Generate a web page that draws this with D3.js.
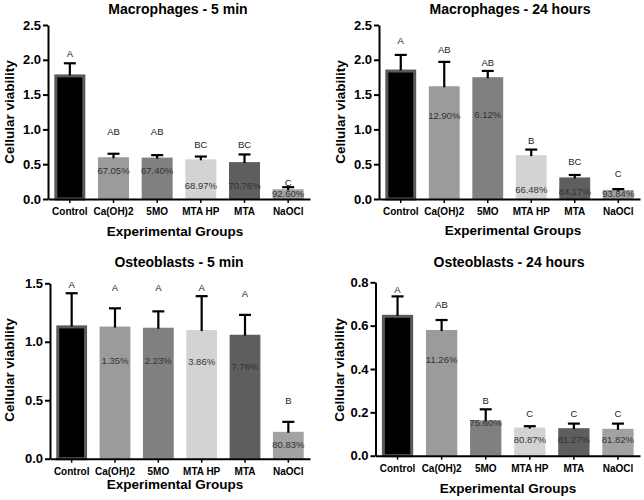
<!DOCTYPE html>
<html><head><meta charset="utf-8">
<script src="https://cdn.jsdelivr.net/npm/d3@7"></script>
<style>
body{margin:0;background:#fff}
svg{display:block}
text{font-family:"Liberation Sans",Arial,Helvetica,sans-serif}
</style></head>
<body><svg id="chart" width="644" height="500"></svg>
<script>
// ---------- data ----------
const categories = ["Control", "Ca(OH)2", "5MO", "MTA HP", "MTA", "NaOCl"];
const barColors = ["#000000", "#9b9b9b", "#808080", "#d3d3d3", "#5e5e5e", "#a2a2a2"];

const titles = ["Macrophages - 5 min", "Macrophages - 24 hours", "Osteoblasts - 5 min", "Osteoblasts - 24 hours"];

// Macrophages - 5 min
const macro5Values = [1.79, 0.60, 0.595, 0.57, 0.53, 0.14];
const macro5SD = [0.16, 0.05, 0.035, 0.04, 0.11, 0.03];
const macro5Letters = ["A", "AB", "AB", "BC", "BC", "C"];
const macro5LetterAt = [2.04, 0.92, 0.92, 0.73, 0.73, 0.18];
const macro5Pct = ["", "67.05%", "67.40%", "68.97%", "70.76%", "92.60%"];
const macro5PctAt = [0, 0.355, 0.355, 0.15, 0.15, 0.025];
const macro5Ticks = [0, 0.5, 1.0, 1.5, 2.0, 2.5];

// Macrophages - 24 hours
const macro24Values = [1.86, 1.62, 1.75, 0.63, 0.31, 0.13];
const macro24SD = [0.21, 0.35, 0.09, 0.08, 0.035, 0.012];
const macro24Letters = ["A", "AB", "AB", "B", "BC", "C"];
const macro24LetterAt = [2.23, 2.10, 1.91, 0.79, 0.49, 0.32];
const macro24Pct = ["", "12.90%", "6.12%", "66.48%", "84.17%", "93.84%"];
const macro24PctAt = [0, 1.145, 1.17, 0.08, 0.06, 0.03];
const macro24Ticks = [0, 0.5, 1.0, 1.5, 2.0, 2.5];

// Osteoblasts - 5 min
const osteo5Values = [1.14, 1.13, 1.12, 1.10, 1.06, 0.23];
const osteo5SD = [0.275, 0.156, 0.14, 0.29, 0.17, 0.085];
const osteo5Letters = ["A", "A", "A", "A", "A", "B"];
const osteo5LetterAt = [1.46, 1.43, 1.43, 1.43, 1.38, 0.465];
const osteo5Pct = ["", "1.35%", "2.23%", "3.86%", "7.76%", "80.83%"];
const osteo5PctAt = [0, 0.81, 0.81, 0.80, 0.76, 0.094];
const osteo5Ticks = [0, 0.5, 1.0, 1.5];

// Osteoblasts - 24 hours
const osteo24Values = [0.65, 0.58, 0.163, 0.13, 0.127, 0.124];
const osteo24SD = [0.085, 0.046, 0.051, 0.006, 0.021, 0.024];
const osteo24Letters = ["A", "AB", "B", "C", "C", "C"];
const osteo24LetterAt = [0.749, 0.68, 0.237, 0.178, 0.178, 0.178];
const osteo24Pct = ["", "11.26%", "75.60%", "80.87%", "81.27%", "81.82%"];
const osteo24PctAt = [0, 0.428, 0.137, 0.057, 0.057, 0.057];
const osteo24Ticks = [0, 0.2, 0.4, 0.6, 0.8];

// ---------- layout ----------
const panels = [
  {title: titles[0], values: macro5Values, sd: macro5SD, letters: macro5Letters, letterAt: macro5LetterAt, pct: macro5Pct, pctAt: macro5PctAt, ticks: macro5Ticks,
   left: 48, right: 310, top: 25, bottom: 199, titleX: 178, titleY: 13.5, xtX: 175, xtY: 235.5, ytX: 14, ytY: 112},
  {title: titles[1], values: macro24Values, sd: macro24SD, letters: macro24Letters, letterAt: macro24LetterAt, pct: macro24Pct, pctAt: macro24PctAt, ticks: macro24Ticks,
   left: 379, right: 640, top: 25, bottom: 199, titleX: 510, titleY: 13.5, xtX: 513, xtY: 235, ytX: 345, ytY: 112},
  {title: titles[2], values: osteo5Values, sd: osteo5SD, letters: osteo5Letters, letterAt: osteo5LetterAt, pct: osteo5Pct, pctAt: osteo5PctAt, ticks: osteo5Ticks,
   left: 50, right: 310, top: 283.3, bottom: 458.7, titleX: 179, titleY: 266.7, xtX: 175, xtY: 489, ytX: 14, ytY: 370},
  {title: titles[3], values: osteo24Values, sd: osteo24SD, letters: osteo24Letters, letterAt: osteo24LetterAt, pct: osteo24Pct, pctAt: osteo24PctAt, ticks: osteo24Ticks,
   left: 375.5, right: 640, top: 282.3, bottom: 455.7, titleX: 509, titleY: 267.3, xtX: 508, xtY: 493, ytX: 344, ytY: 370}
];

const svg = d3.select("#chart");

panels.forEach(p => {
  const g = svg.append("g");
  const x = d3.scaleBand().domain(categories).range([p.left, p.right]).paddingInner(0.29).paddingOuter(0.145);
  const y = d3.scaleLinear().domain([0, d3.max(p.ticks)]).range([p.bottom, p.top]);
  const bw = x.bandwidth();

  // bars
  g.selectAll("rect.bar").data(p.values).join("rect")
    .attr("class", "bar")
    .attr("x", (d, i) => x(categories[i]) + (i === 0 ? 1.5 : 0))
    .attr("width", (d, i) => bw - (i === 0 ? 3 : 0))
    .attr("y", (d, i) => y(d) + (i === 0 ? 1.5 : 0))
    .attr("height", (d, i) => y(0) - y(d) - (i === 0 ? 1.5 : 0))
    .attr("fill", (d, i) => barColors[i])
    .attr("stroke", (d, i) => i === 0 ? "#5a5a5a" : "none")
    .attr("stroke-width", 3);

  // error bars
  const eb = g.selectAll("g.err").data(p.values).join("g").attr("class", "err");
  eb.append("line")
    .attr("x1", (d, i) => x(categories[i]) + bw / 2)
    .attr("x2", (d, i) => x(categories[i]) + bw / 2)
    .attr("y1", (d, i) => y(d) + 1)
    .attr("y2", (d, i) => y(d + p.sd[i]))
    .attr("stroke", "#000").attr("stroke-width", 2.2);
  eb.append("line")
    .attr("x1", (d, i) => x(categories[i]) + bw / 2 - 6)
    .attr("x2", (d, i) => x(categories[i]) + bw / 2 + 6)
    .attr("y1", (d, i) => y(d + p.sd[i]))
    .attr("y2", (d, i) => y(d + p.sd[i]))
    .attr("stroke", "#000").attr("stroke-width", 2.2);

  // letters
  g.selectAll("text.letter").data(p.letters).join("text")
    .attr("class", "letter")
    .attr("x", (d, i) => x(categories[i]) + bw / 2)
    .attr("y", (d, i) => y(p.letterAt[i]))
    .attr("text-anchor", "middle")
    .attr("font-size", 9.5)
    .attr("fill", "#222")
    .text(d => d);

  // percentages
  g.selectAll("text.pct").data(p.pct).join("text")
    .attr("class", "pct")
    .attr("x", (d, i) => x(categories[i]) + bw / 2)
    .attr("y", (d, i) => y(p.pctAt[i]))
    .attr("text-anchor", "middle")
    .attr("font-size", 9.5)
    .attr("fill", "#333")
    .text(d => d);

  // y axis
  const ya = g.append("g").attr("transform", `translate(${p.left},0)`)
    .call(d3.axisLeft(y).tickValues(p.ticks).tickFormat(d3.format(".1f")).tickSize(5).tickSizeOuter(0).tickPadding(2));
  ya.select(".domain").attr("stroke-width", 2);
  ya.selectAll(".tick line").attr("stroke-width", 2);
  ya.selectAll(".tick text").attr("font-size", 13).attr("font-weight", "bold").attr("fill", "#000")
    .attr("font-family", "'Liberation Sans',Arial,sans-serif");

  // x axis
  const xa = g.append("g").attr("transform", `translate(0,${p.bottom})`)
    .call(d3.axisBottom(x).tickSize(4).tickSizeOuter(0));
  xa.select(".domain").attr("stroke-width", 2);
  xa.selectAll(".tick line").attr("stroke-width", 1.5);
  xa.selectAll(".tick text").attr("font-size", 10).attr("font-weight", "bold").attr("fill", "#000")
    .attr("font-family", "'Liberation Sans',Arial,sans-serif")
    .attr("dy", null).attr("y", 16);

  // titles
  g.append("text").attr("x", p.titleX).attr("y", p.titleY).attr("text-anchor", "middle")
    .attr("font-size", 14).attr("font-weight", "bold").text(p.title);
  g.append("text").attr("x", p.xtX).attr("y", p.xtY).attr("text-anchor", "middle")
    .attr("font-size", 13.5).attr("font-weight", "bold").text("Experimental Groups");
  g.append("text").attr("transform", `translate(${p.ytX},${p.ytY}) rotate(-90)`).attr("text-anchor", "middle")
    .attr("font-size", 13.5).attr("font-weight", "bold").text("Cellular viability");
});
</script>
</body></html>
